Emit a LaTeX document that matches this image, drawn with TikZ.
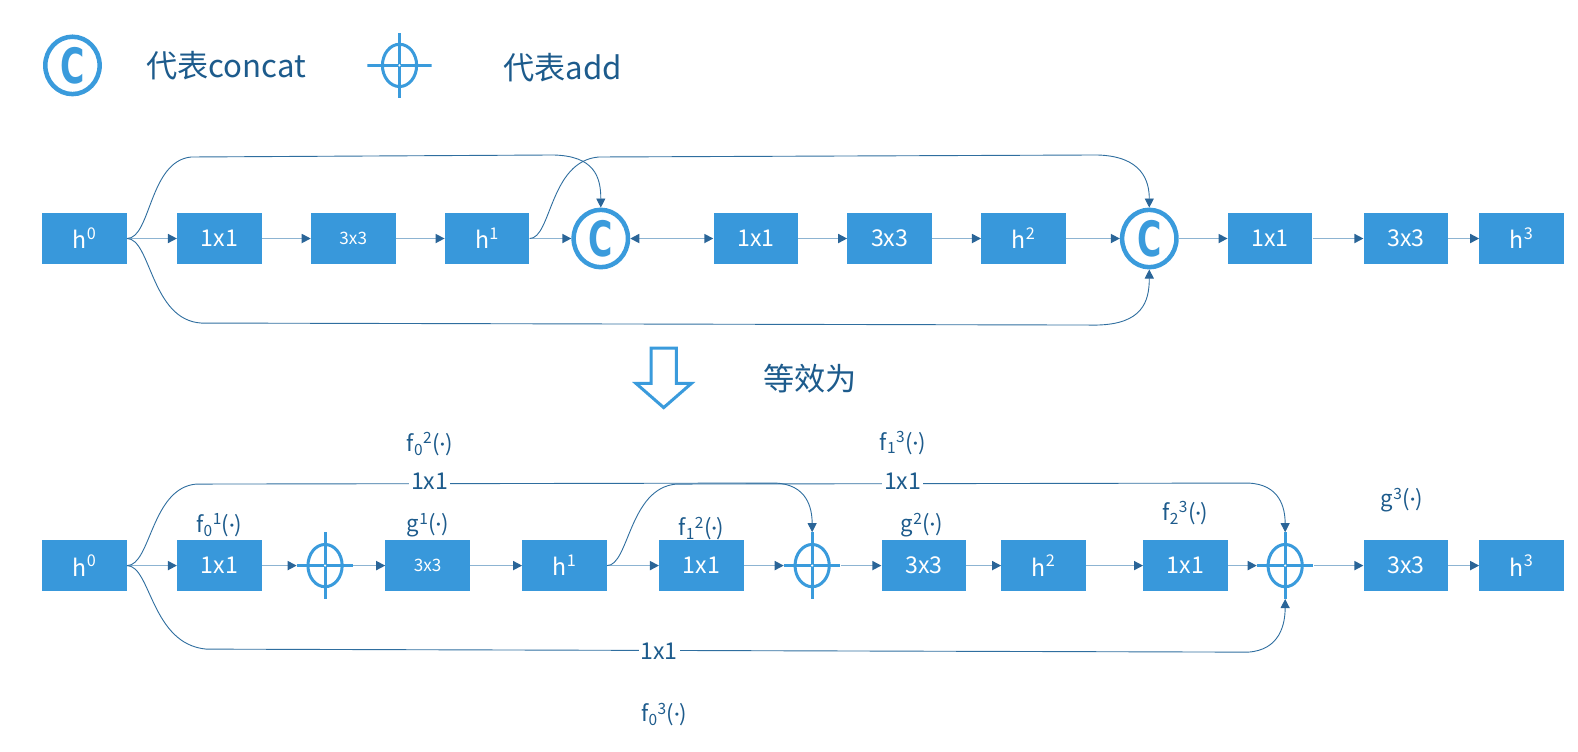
\documentclass[tikz,border=0pt]{standalone}
\usepackage{fontspec}
\setmainfont{Noto Sans CJK SC}
\newfontfamily\firab{Fira Sans}
\newfontfamily\dvb{DejaVu Sans}
\usetikzlibrary{arrows.meta,shapes.geometric}
\definecolor{boxblue}{HTML}{3898DB}
\definecolor{symblue}{HTML}{3A9BDC}
\definecolor{txtblue}{HTML}{1D5B8C}
\definecolor{linelight}{HTML}{8DB4D2}
\definecolor{arrdark}{HTML}{2A6598}
\definecolor{curveblue}{HTML}{2F6E9F}
\tikzset{
 blk/.style={rectangle, fill=boxblue, text=white, minimum width=84pt, minimum height=50pt, inner sep=0pt, font=\fontsize{23}{23}\selectfont},
 blks/.style={blk, font=\fontsize{17}{17}\selectfont},
 lbl/.style={text=txtblue, font=\fontsize{22}{22}\selectfont, inner sep=1pt},
 clbl/.style={text=txtblue, fill=white, font=\fontsize{23}{23}\selectfont, inner sep=2pt},
 legtxt/.style={text=txtblue, font=\fontsize{31}{31}\selectfont, inner sep=0pt},
 arr/.style={draw=linelight, line width=1.6pt, -{Triangle[length=9pt,width=9pt,color=arrdark]}},
 barr/.style={draw=linelight, line width=1.6pt, {Triangle[length=9pt,width=9pt,color=arrdark]}-{Triangle[length=9pt,width=9pt,color=arrdark]}},
 crv/.style={draw=curveblue, line width=0.9pt, -{Triangle[length=9pt,width=9pt,color=arrdark]}},
 concat/.style={shape=ellipse, draw=symblue, line width=4.5pt, minimum width=54pt, minimum height=57pt, inner sep=0pt, text=symblue,
   font=\fontsize{44}{44}\selectfont},
 addsym/.style={rectangle, minimum width=56pt, minimum height=66pt, inner sep=0pt,
   path picture={
     \draw[symblue, line width=3pt] (path picture bounding box.center) ellipse [x radius=17pt, y radius=21pt];
     \draw[symblue, line width=3pt] (path picture bounding box.north) -- (path picture bounding box.south);
     \draw[symblue, line width=3pt] (path picture bounding box.west) -- (path picture bounding box.east);
     \fill[white] (path picture bounding box.center) circle[radius=1.2pt];
   }},
}
\newcommand{\Csym}{\scalebox{0.75}[1.1]{\dvb\bfseries C}}
\newcommand{\dt}{{\firab ·}}
\begin{document}
\begin{tikzpicture}[x=1pt,y=-1pt]
\useasboundingbox (0,0) rectangle (1568,747);

% legend
\node[concat] (legc) at (72,65) {\Csym};
\node[legtxt, anchor=west] (legct) at (145,65) {代表concat};
\node[addsym, minimum width=64pt, minimum height=64pt] (lega) at (397,65) {};
\node[legtxt, anchor=west] (legat) at (500,67) {代表add};

% top row
\node[blk] (t0) at (84,237) {h\textsuperscript{0}};
\node[blk] (t1) at (218,237) {1x1};
\node[blks] (t2) at (351,237) {3x3};
\node[blk] (th1) at (484,237) {h\textsuperscript{1}};
\node[concat] (c1) at (597,237) {\Csym};
\node[blk] (t3) at (751,237) {1x1};
\node[blk] (t4) at (884,237) {3x3};
\node[blk] (th2) at (1017,237) {h\textsuperscript{2}};
\node[concat] (c2) at (1142,237) {\Csym};
\node[blk] (t5) at (1262,237) {1x1};
\node[blk] (t6) at (1397,237) {3x3};
\node[blk] (th3) at (1512,237) {h\textsuperscript{3}};

\draw[arr] (t0) -- (t1);
\draw[arr] (t1) -- (t2);
\draw[arr] (t2) -- (th1);
\draw[arr] (th1) -- (c1);
\draw[barr] (c1) -- (t3);
\draw[arr] (t3) -- (t4);
\draw[arr] (t4) -- (th2);
\draw[arr] (th2) -- (c2);
\draw[arr] (c2) -- (t5);
\draw[arr] (t5) -- (t6);
\draw[arr] (t6) -- (th3);

\draw[crv] (t0.east) .. controls (150,237) and (148,160) .. (190,156) -- (550,154) .. controls (590,155) and (597,175) .. (c1.north);
\draw[crv] (th1.east) .. controls (548,237) and (546,160) .. (595,156) -- (1090,154) .. controls (1135,155) and (1142,180) .. (c2.north);
\draw[crv] (t0.east) .. controls (150,237) and (150,318) .. (200,321) -- (1090,323) .. controls (1135,322) and (1142,300) .. (c2.south);

% equivalence arrow
\draw[symblue, line width=3pt, line join=miter, fill=white] (647,346) -- (672,346) -- (672,381) -- (687,381) -- (659.5,405) -- (632,381) -- (647,381) -- cycle;
\node[legtxt] (eq) at (805,376) {等效为};

% bottom row
\node[blk] (b0) at (84,562) {h\textsuperscript{0}};
\node[blk] (b1) at (218,562) {1x1};
\node[addsym] (a1) at (323,562) {};
\node[blks] (b2) at (425,562) {3x3};
\node[blk] (bh1) at (561,562) {h\textsuperscript{1}};
\node[blk] (b3) at (697,562) {1x1};
\node[addsym] (a2) at (807,562) {};
\node[blk] (b4) at (918,562) {3x3};
\node[blk] (bh2) at (1037,562) {h\textsuperscript{2}};
\node[blk] (b5) at (1178,562) {1x1};
\node[addsym] (a3) at (1277,562) {};
\node[blk] (b6) at (1397,562) {3x3};
\node[blk] (bh3) at (1512,562) {h\textsuperscript{3}};

\draw[arr] (b0) -- (b1);
\draw[arr] (b1) -- (a1);
\draw[arr] (a1) -- (b2);
\draw[arr] (b2) -- (bh1);
\draw[arr] (bh1) -- (b3);
\draw[arr] (b3) -- (a2);
\draw[arr] (a2) -- (b4);
\draw[arr] (b4) -- (bh2);
\draw[arr] (bh2) -- (b5);
\draw[arr] (b5) -- (a3);
\draw[arr] (a3) -- (b6);
\draw[arr] (b6) -- (bh3);

\draw[crv] (b0.east) .. controls (150,562) and (150,485) .. (195,481) -- (770,480) .. controls (802,481) and (807,505) .. (a2.north);
\draw[crv] (bh1.east) .. controls (625,562) and (625,485) .. (672,481) -- (1240,480) .. controls (1272,481) and (1277,505) .. (a3.north);
\draw[crv] (b0.east) .. controls (150,562) and (150,640) .. (205,645) -- (1240,648) .. controls (1272,646) and (1277,620) .. (a3.south);

% labels
\node[lbl] (l1) at (218,522) {f\textsubscript{0}\textsuperscript{1}(\dt)};
\node[lbl] (l2) at (425,522) {g\textsuperscript{1}(\dt)};
\node[lbl] (l3) at (697,525) {f\textsubscript{1}\textsuperscript{2}(\dt)};
\node[lbl] (l4) at (916,522) {g\textsuperscript{2}(\dt)};
\node[lbl] (l5) at (1178,510) {f\textsubscript{2}\textsuperscript{3}(\dt)};
\node[lbl] (l6) at (1393,497) {g\textsuperscript{3}(\dt)};
\node[lbl] (l7) at (427,441) {f\textsubscript{0}\textsuperscript{2}(\dt)};
\node[lbl] (l8) at (897,440) {f\textsubscript{1}\textsuperscript{3}(\dt)};
\node[lbl] (l9) at (660,710) {f\textsubscript{0}\textsuperscript{3}(\dt)};
\node[clbl] (k1) at (427,478) {1x1};
\node[clbl] (k2) at (897,478) {1x1};
\node[clbl] (k3) at (655,647) {1x1};
\end{tikzpicture}
\end{document}
